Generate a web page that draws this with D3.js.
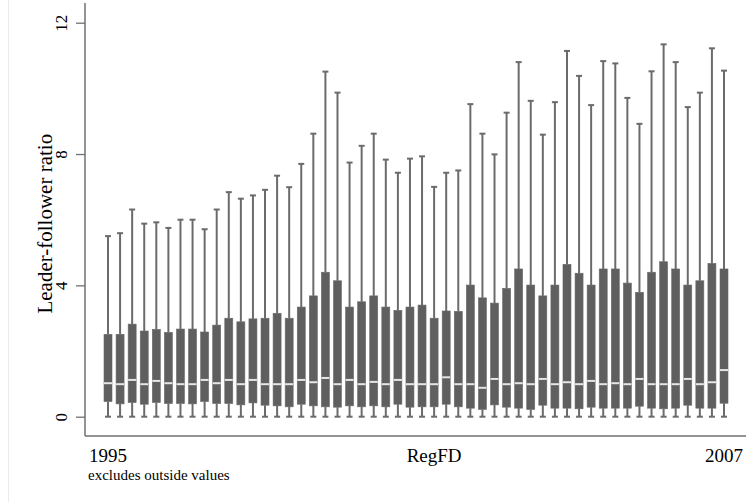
<!DOCTYPE html>
<html>
<head>
<meta charset="utf-8">
<script src="https://cdn.jsdelivr.net/npm/d3@7"></script>
<style>
  body { margin: 0; background: #fff; }
  svg { display: block; font-family: "Liberation Serif", "Times New Roman", serif; }
</style>
</head>
<body>
<div id="chart"></div>
<script>
// data: one box per quarter, 1995Q1 .. 2007Q4
var years = [1995, 1996, 1997, 1998, 1999, 2000, 2001, 2002, 2003, 2004, 2005, 2006, 2007];
var quarters = ["Q1", "Q2", "Q3", "Q4"];
var periods = [];
years.forEach(function(y) { quarters.forEach(function(q) { periods.push(y + q); }); });

var upperAdj = [5.50, 5.59, 6.31, 5.88, 5.92, 5.75, 6.00, 6.00, 5.71, 6.31,
  6.84, 6.64, 6.74, 6.91, 7.34, 6.99, 7.70, 8.62, 10.51, 9.87,
  7.74, 8.25, 8.62, 7.83, 7.43, 7.86, 7.93, 7.00, 7.43, 7.50,
  9.52, 8.62, 7.99, 9.26, 10.80, 9.62, 8.59, 9.58, 11.14, 10.38,
  9.49, 10.83, 10.76, 9.71, 8.92, 10.52, 11.34, 10.80, 9.43, 9.87,
  11.22, 10.54];
var q3 = [2.51, 2.51, 2.82, 2.61, 2.66, 2.57, 2.67, 2.67, 2.58, 2.79,
  3.00, 2.89, 2.98, 3.00, 3.15, 3.00, 3.34, 3.68, 4.40, 4.14,
  3.34, 3.50, 3.68, 3.34, 3.24, 3.34, 3.40, 3.00, 3.22, 3.21,
  4.01, 3.62, 3.46, 3.91, 4.50, 4.01, 3.68, 4.01, 4.64, 4.37,
  4.01, 4.50, 4.50, 4.07, 3.79, 4.40, 4.72, 4.50, 4.01, 4.14,
  4.67, 4.50];
var median = [1.02, 0.99, 1.12, 0.99, 1.09, 1.02, 0.99, 0.99, 1.12, 1.02,
  1.12, 0.99, 1.12, 0.99, 0.99, 0.99, 1.12, 1.05, 1.18, 0.99,
  1.12, 0.99, 1.06, 0.99, 1.12, 0.99, 0.99, 0.99, 1.20, 0.99,
  0.99, 0.88, 1.15, 0.99, 1.02, 0.99, 1.15, 0.99, 1.05, 0.99,
  1.09, 0.99, 1.02, 0.99, 1.15, 0.99, 0.99, 0.99, 1.15, 0.99,
  1.05, 1.42];
var q1 = [0.46, 0.39, 0.43, 0.38, 0.43, 0.40, 0.40, 0.39, 0.46, 0.40,
  0.40, 0.36, 0.42, 0.35, 0.33, 0.30, 0.38, 0.33, 0.30, 0.29,
  0.33, 0.30, 0.33, 0.30, 0.38, 0.29, 0.30, 0.30, 0.38, 0.30,
  0.26, 0.22, 0.36, 0.29, 0.26, 0.22, 0.35, 0.26, 0.26, 0.24,
  0.29, 0.26, 0.26, 0.26, 0.32, 0.26, 0.24, 0.26, 0.35, 0.26,
  0.26, 0.41];
var lowerAdj = periods.map(function() { return 0; });

var yTicks = [0, 4, 8, 12];
var xLabels = [["1995Q1", "1995"], ["2001Q4", "RegFD"], ["2007Q4", "2007"]];
var note = "excludes outside values";

var boxes = periods.map(function(p, i) {
  return { p: p, lo: lowerAdj[i], q1: q1[i], med: median[i], q3: q3[i], hi: upperAdj[i] };
});

// chart setup
var svgWidth = 746, svgHeight = 502;
var plot = { left: 85, right: 746, top: 3, bottom: 436 };
var boxColor = "#5f5f5f", lineColor = "#6b6b6b", axisColor = "#707070";

var svg = d3.select("#chart").append("svg")
  .attr("width", svgWidth)
  .attr("height", svgHeight);

// faint graph region edge
svg.append("line")
  .attr("x1", 8.5).attr("x2", 8.5).attr("y1", 0).attr("y2", svgHeight)
  .attr("stroke", "#ebebeb");

var xScale = d3.scalePoint().domain(periods).range([108, 724]);
var yScale = d3.scaleLinear().domain([0, 12]).range([416.7, 22.7]);

var boxW = 8, capW = 6;

var g = svg.append("g");
var bx = g.selectAll(".box").data(boxes).enter().append("g").attr("class", "box");

// whiskers
bx.append("line")
  .attr("x1", d => xScale(d.p)).attr("x2", d => xScale(d.p))
  .attr("y1", d => yScale(d.q3)).attr("y2", d => yScale(d.hi))
  .attr("stroke", lineColor).attr("stroke-width", 2);
bx.append("line")
  .attr("x1", d => xScale(d.p)).attr("x2", d => xScale(d.p))
  .attr("y1", d => yScale(d.q1)).attr("y2", d => yScale(d.lo))
  .attr("stroke", lineColor).attr("stroke-width", 2);
// caps
bx.append("line")
  .attr("x1", d => xScale(d.p) - capW / 2).attr("x2", d => xScale(d.p) + capW / 2)
  .attr("y1", d => yScale(d.hi)).attr("y2", d => yScale(d.hi))
  .attr("stroke", lineColor).attr("stroke-width", 2);
bx.append("line")
  .attr("x1", d => xScale(d.p) - capW / 2).attr("x2", d => xScale(d.p) + capW / 2)
  .attr("y1", d => yScale(d.lo)).attr("y2", d => yScale(d.lo))
  .attr("stroke", lineColor).attr("stroke-width", 2);
// box
bx.append("rect")
  .attr("x", d => xScale(d.p) - boxW / 2)
  .attr("width", boxW)
  .attr("y", d => yScale(d.q3))
  .attr("height", d => yScale(d.q1) - yScale(d.q3))
  .attr("fill", boxColor)
  .attr("stroke", "#6a6a6a").attr("stroke-width", 0.6);
// median
bx.append("line")
  .attr("x1", d => xScale(d.p) - boxW / 2).attr("x2", d => xScale(d.p) + boxW / 2)
  .attr("y1", d => yScale(d.med)).attr("y2", d => yScale(d.med))
  .attr("stroke", "#e6e6e6").attr("stroke-width", 2);

// y axis
var yAxis = d3.axisLeft(yScale).tickValues(yTicks).tickSize(9).tickFormat(d3.format("d"));
var yG = svg.append("g").attr("transform", `translate(${plot.left},0)`).call(yAxis)
  .attr("font-family", "Liberation Serif")
  .attr("font-size", 17);
yG.select(".domain").remove();
yG.selectAll("line").attr("stroke", axisColor).attr("stroke-width", 1.3);
yG.selectAll("text")
  .attr("x", null).attr("dy", null)
  .attr("transform", "translate(-18,0) rotate(-90)")
  .attr("text-anchor", "middle")
  .attr("fill", "#000");
svg.append("line")
  .attr("x1", plot.left).attr("x2", plot.left)
  .attr("y1", plot.top).attr("y2", plot.bottom)
  .attr("stroke", axisColor).attr("stroke-width", 1.5);

// x axis
svg.append("line")
  .attr("x1", plot.left).attr("x2", plot.right)
  .attr("y1", plot.bottom).attr("y2", plot.bottom)
  .attr("stroke", axisColor).attr("stroke-width", 1.5);
svg.selectAll(".xlab").data(xLabels).enter().append("text")
  .attr("class", "xlab")
  .attr("x", d => xScale(d[0]))
  .attr("y", 462)
  .attr("text-anchor", "middle")
  .style("font-size", "19px")
  .text(d => d[1]);

// axis title
svg.append("text")
  .attr("transform", `translate(52, ${yScale(6) + 4}) rotate(-90)`)
  .attr("text-anchor", "middle")
  .style("font-size", "21px")
  .text("Leader-follower ratio");

svg.append("text")
  .attr("x", 88).attr("y", 480)
  .style("font-size", "15px")
  .text(note);
</script>
</body>
</html>
